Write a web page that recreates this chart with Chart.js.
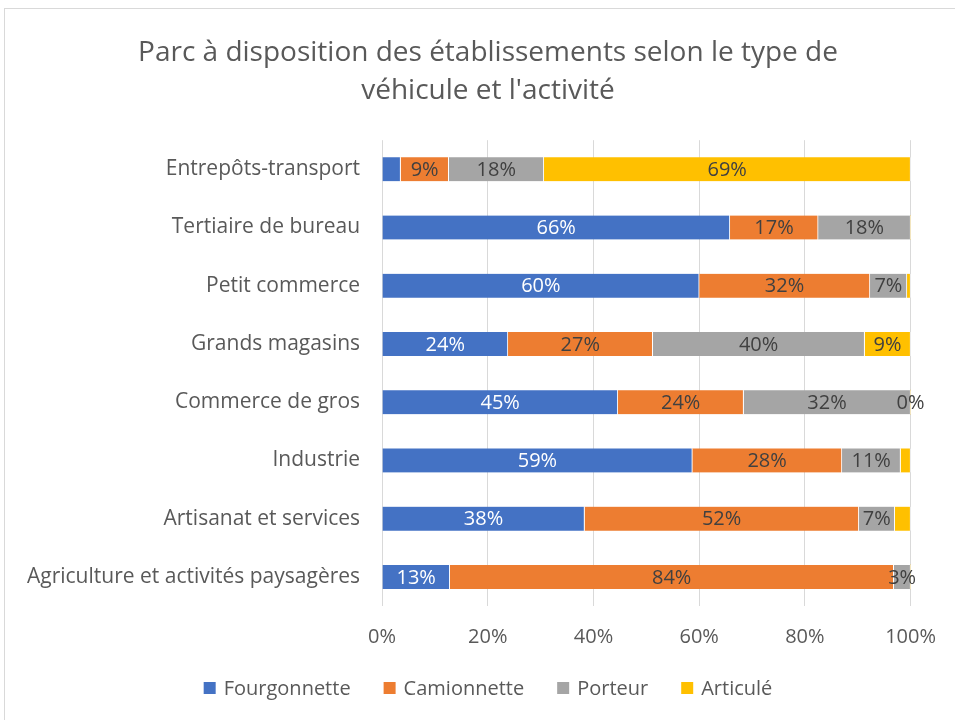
<!DOCTYPE html>
<html>
<head>
<meta charset="utf-8">
<script src="https://cdn.jsdelivr.net/npm/chart.js@4"></script>
<style>
body { margin: 0; background: #fff; overflow: hidden; }
#container { position: absolute; left: 4px; top: 8px; width: 960px; height: 720px; border: 1px solid #d9d9d9; background: #fff; }
</style>
</head>
<body>
<div id="container"><canvas id="chartcanvas" width="950" height="711"></canvas></div>
<script>
var categories = [
    'Entrepôts-transport',
    'Tertiaire de bureau',
    'Petit commerce',
    'Grands magasins',
    'Commerce de gros',
    'Industrie',
    'Artisanat et services',
    'Agriculture et activités paysagères'
];
var fourgonnette = [3.5, 65.8, 60, 23.8, 44.6, 58.7, 38.3, 12.8];
var camionnette = [9.1, 16.7, 32.3, 27.4, 23.8, 28.3, 51.9, 84];
var porteur = [18, 17.5, 7, 40.1, 31.6, 11.1, 6.8, 3.2];
var articule = [69.4, 0, 0.7, 8.7, 0, 1.9, 3, 0];
// labels left out on the small segments, as in the original
var hideLabel = [
    [true, false, false, false, false, false, false, false],
    [false, false, false, false, false, false, false, false],
    [false, false, false, false, false, false, false, false],
    [false, true, true, false, false, true, true, true]
];
var xTicks = ['0%', '20%', '40%', '60%', '80%', '100%'];

var fontFam = '"Open Sans", sans-serif';
var grey = '#595959';

// draws the value in the middle of each segment
var segLabels = {
    id: 'segLabels',
    afterDatasetsDraw: function (chart) {
        var c = chart.ctx;
        c.save();
        c.font = '20px ' + fontFam;
        c.textAlign = 'center';
        c.textBaseline = 'middle';
        chart.data.datasets.forEach(function (ds, i) {
            var meta = chart.getDatasetMeta(i);
            meta.data.forEach(function (bar, j) {
                if (hideLabel[i][j]) return;
                var cx = (bar.x + bar.base) / 2;
                c.fillStyle = i === 0 ? '#ffffff' : '#404040';
                c.fillText(Math.round(ds.data[j]) + '%', cx, bar.y + 1);
            });
        });
        c.restore();
    }
};

// title is centred on the whole frame, not on the space left of the padding
var titleShift = {
    id: 'titleShift',
    afterLayout: function (chart) {
        chart.titleBlock.left += 22;
        chart.titleBlock.right += 22;
    }
};

// legend drawn by hand so the gaps between items match the original
var bottomLegend = {
    id: 'bottomLegend',
    afterDraw: function (chart) {
        var c = chart.ctx;
        var box = 12, gap = 8, itemGap = 33;
        var cx = 483, cy = 679;
        c.save();
        c.font = '20px ' + fontFam;
        c.textBaseline = 'middle';
        var items = chart.data.datasets.map(function (ds) {
            return { text: ds.label, color: ds.backgroundColor, w: c.measureText(ds.label).width };
        });
        var total = 0;
        items.forEach(function (it) { total += box + gap + it.w; });
        total += itemGap * (items.length - 1);
        var x = cx - total / 2;
        items.forEach(function (it) {
            c.fillStyle = it.color;
            c.fillRect(x, cy - box / 2, box, box);
            c.fillStyle = grey;
            c.fillText(it.text, x + box + gap, cy + 1);
            x += box + gap + it.w + itemGap;
        });
        c.restore();
    }
};

function mkSet(label, data, color) {
    return {
        label: label,
        data: data,
        backgroundColor: color,
        borderColor: '#ffffff',
        borderWidth: { left: 0, right: 1, top: 0, bottom: 0 },
        borderSkipped: false,
        barThickness: 24
    };
}

var ctx = document.getElementById('chartcanvas');
var myChart = new Chart(ctx, {
    type: 'bar',
    data: {
        labels: categories,
        datasets: [
            mkSet('Fourgonnette', fourgonnette, '#4472c4'),
            mkSet('Camionnette', camionnette, '#ed7d31'),
            mkSet('Porteur', porteur, '#a5a5a5'),
            mkSet('Articulé', articule, '#ffc000')
        ]
    },
    plugins: [segLabels, titleShift, bottomLegend],
    options: {
        indexAxis: 'y',
        responsive: false,
        animation: false,
        layout: { padding: { left: 8, right: 36, top: 0, bottom: 52 } },
        plugins: {
            title: {
                display: true,
                text: ['Parc à disposition des établissements selon le type de', 'véhicule et l\'activité'],
                color: grey,
                font: { family: fontFam, size: 28, weight: 'normal', lineHeight: 1.36 },
                padding: { top: 25, bottom: 30 }
            },
            legend: { display: false },
            tooltip: { enabled: false }
        },
        scales: {
            x: {
                stacked: true,
                min: 0,
                max: 100,
                ticks: {
                    stepSize: 20,
                    color: grey,
                    font: { family: fontFam, size: 20 },
                    padding: 19,
                    callback: function (v, i) { return xTicks[i]; }
                },
                grid: { color: '#d9d9d9', drawTicks: false },
                border: { display: false }
            },
            y: {
                stacked: true,
                ticks: {
                    color: grey,
                    font: { family: fontFam, size: 21 },
                    padding: 14
                },
                grid: { display: false },
                border: { display: false }
            }
        }
    }
});
</script>
</body>
</html>
